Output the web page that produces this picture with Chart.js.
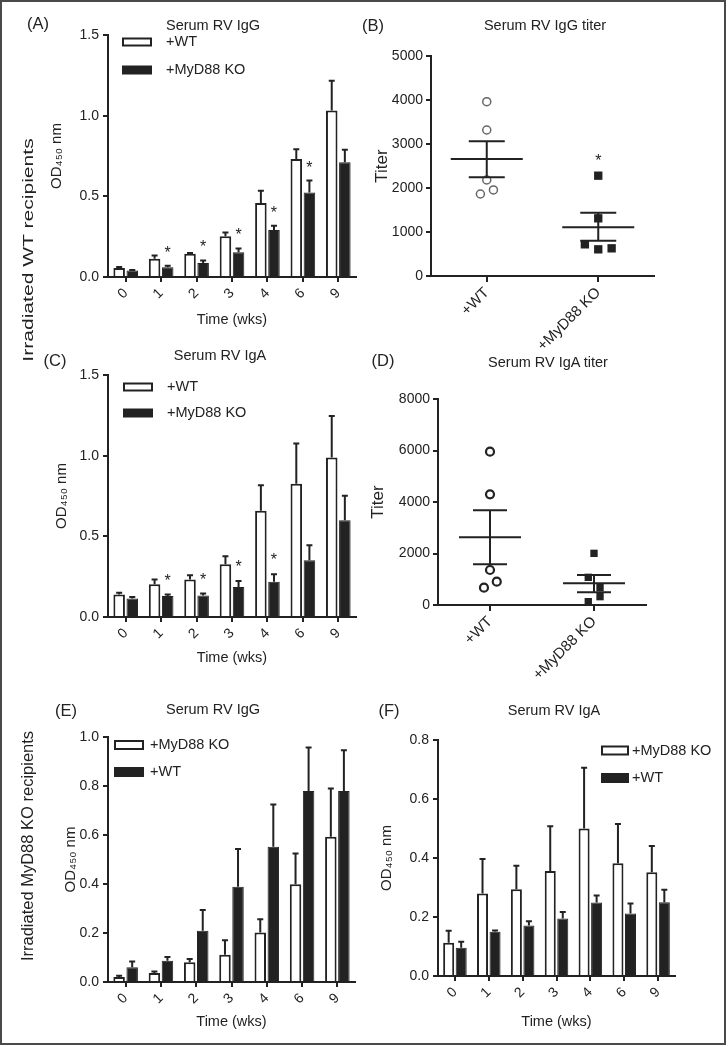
<!DOCTYPE html>
<html lang="en">
<head>
<meta charset="UTF-8" />
<title>Serum RV IgG / IgA responses</title>
<script src="https://cdn.jsdelivr.net/npm/chart.js"></script>
<style>
  body { margin: 0; background: #fff; }
  #page { position: relative; width: 728px; height: 1047px; overflow: hidden;
          font-family: "Liberation Sans", Arial, sans-serif; color: #222; }
  #frame { position: absolute; left: 0; top: 0; width: 722px; height: 1041px; border: 2px solid #4a4a4a; }
  canvas { position: absolute; }
  .txt { position: absolute; white-space: nowrap; line-height: 1; transform: translate(-50%, -50%); }
  .letter { font-size: 16.5px; }
  .title { font-size: 14.5px; }
</style>
</head>
<body>
<div id="page">
  <div id="frame"></div>

  <canvas id="chartA" width="360" height="333" style="left:0;top:0"></canvas>
  <canvas id="chartB" width="368" height="350" style="left:360px;top:0"></canvas>
  <canvas id="chartC" width="360" height="337" style="left:0;top:333px"></canvas>
  <canvas id="chartD" width="368" height="357" style="left:360px;top:333px"></canvas>
  <canvas id="chartE" width="360" height="377" style="left:0;top:670px"></canvas>
  <canvas id="chartF" width="368" height="377" style="left:360px;top:670px"></canvas>

  <div class="txt letter" style="left:38px;top:23px">(A)</div>
  <div class="txt letter" style="left:373px;top:25px">(B)</div>
  <div class="txt letter" style="left:55px;top:360px">(C)</div>
  <div class="txt letter" style="left:383px;top:360px">(D)</div>
  <div class="txt letter" style="left:66px;top:710px">(E)</div>
  <div class="txt letter" style="left:389px;top:710px">(F)</div>

  <div class="txt title" style="left:213px;top:25px">Serum RV IgG</div>
  <div class="txt title" style="left:545px;top:25px">Serum RV IgG titer</div>
  <div class="txt title" style="left:220px;top:355px">Serum RV IgA</div>
  <div class="txt title" style="left:548px;top:362px">Serum RV IgA titer</div>
  <div class="txt title" style="left:213px;top:709px">Serum RV IgG</div>
  <div class="txt title" style="left:554px;top:710px">Serum RV IgA</div>

  <div class="txt" style="left:28px;top:250px;font-size:15.5px;transform:translate(-50%,-50%) rotate(-90deg) scaleX(1.36)">Irradiated WT recipients</div>
  <div class="txt" style="left:27px;top:846px;font-size:16.5px;transform:translate(-50%,-50%) rotate(-90deg)">Irradiated MyD88 KO recipients</div>
</div>

<script>
var weeks = ['0', '1', '2', '3', '4', '6', '9'];

// (A) serum RV IgG, irradiated WT recipients
var aWT = [0.056, 0.113, 0.144, 0.252, 0.458, 0.732, 1.032];
var aWTsem = [0.006, 0.021, 0.005, 0.024, 0.076, 0.060, 0.185];
var aKO = [0.041, 0.060, 0.087, 0.153, 0.291, 0.524, 0.712];
var aKOsem = [0.003, 0.010, 0.016, 0.024, 0.027, 0.074, 0.076];
var aSig = [0, 1, 1, 1, 1, 1, 0];

// (C) serum RV IgA, irradiated WT recipients
var cWT = [0.139, 0.203, 0.232, 0.327, 0.658, 0.826, 0.989];
var cWTsem = [0.012, 0.029, 0.027, 0.050, 0.159, 0.250, 0.257];
var cKO = [0.114, 0.130, 0.134, 0.186, 0.219, 0.352, 0.600];
var cKOsem = [0.010, 0.009, 0.011, 0.037, 0.046, 0.093, 0.151];
var cSig = [0, 1, 1, 1, 1, 0, 0];

// (E) serum RV IgG, irradiated MyD88 KO recipients
var eKO = [0.020, 0.037, 0.081, 0.111, 0.202, 0.399, 0.593];
var eKOsem = [0.006, 0.006, 0.013, 0.059, 0.054, 0.126, 0.197];
var eWT = [0.060, 0.087, 0.209, 0.389, 0.552, 0.780, 0.780];
var eWTsem = [0.024, 0.015, 0.085, 0.154, 0.173, 0.177, 0.166];

// (F) serum RV IgA, irradiated MyD88 KO recipients
var fKO = [0.113, 0.280, 0.294, 0.356, 0.500, 0.382, 0.352];
var fKOsem = [0.040, 0.117, 0.080, 0.152, 0.206, 0.133, 0.089];
var fWT = [0.096, 0.150, 0.171, 0.195, 0.249, 0.212, 0.250];
var fWTsem = [0.020, 0.004, 0.015, 0.022, 0.024, 0.034, 0.042];

// (B) and (D) titers; x = group (0 / 1) plus the small side offset of each dot
var titerGroups = ['+WT', '+MyD88 KO'];
var bWT = [3962, 3318, 2182, 1864, 1955];
var bWTx = [0, 0, 0, -0.057, 0.06];
var bKO = [2280, 1311, 720, 606, 629];
var bKOx = [1, 1, 0.88, 1, 1.12];
var bMean = [2659, 1106];
var bUpper = [3061, 1439];
var bLower = [2242, 803];

var dWT = [5955, 4298, 1359, 673, 906];
var dWTx = [0, 0, 0, -0.058, 0.065];
var dKO = [2006, 1074, 673, 324, 129];
var dKOx = [1, 0.945, 1.058, 1.058, 0.945];
var dMean = [2628, 841];
var dUpper = [3676, 1165];
var dLower = [1579, 492];

var INK = '#222';
var FONT = '"Liberation Sans", Arial, "DejaVu Sans", sans-serif';
Chart.defaults.font.family = FONT;
Chart.defaults.color = INK;

// one-sided SEM whiskers on top of each bar
var errorBars = {
    id: 'errorBars',
    afterDatasetsDraw: function (chart) {
        var ctx = chart.ctx, y = chart.scales.y;
        ctx.save();
        ctx.strokeStyle = INK;
        ctx.lineWidth = 2;
        chart.data.datasets.forEach(function (ds, i) {
            chart.getDatasetMeta(i).data.forEach(function (bar, j) {
                var top = y.getPixelForValue(ds.data[j] + ds.sem[j]);
                ctx.beginPath();
                ctx.moveTo(bar.x, bar.y);
                ctx.lineTo(bar.x, top);
                ctx.moveTo(bar.x - 3, top);
                ctx.lineTo(bar.x + 3, top);
                ctx.stroke();
            });
        });
        ctx.restore();
    }
};

// asterisks above the second group's bars
var stars = {
    id: 'stars',
    afterDatasetsDraw: function (chart, args, opts) {
        if (!opts.marks) return;
        var ctx = chart.ctx, y = chart.scales.y;
        var ds = chart.data.datasets[1];
        var meta = chart.getDatasetMeta(1);
        ctx.save();
        ctx.fillStyle = INK;
        ctx.font = '16px ' + FONT;
        ctx.textAlign = 'center';
        ctx.textBaseline = 'alphabetic';
        opts.marks.forEach(function (m, j) {
            if (!m) return;
            var top = y.getPixelForValue(ds.data[j] + ds.sem[j]);
            ctx.fillText('*', meta.data[j].x, top - opts.gap + 9);
        });
        ctx.restore();
    }
};

// stacked legend inside the plot
var boxLegend = {
    id: 'boxLegend',
    afterDraw: function (chart, args, opts) {
        var ctx = chart.ctx, a = chart.chartArea;
        ctx.save();
        ctx.font = '14.5px ' + FONT;
        ctx.textBaseline = 'middle';
        chart.data.datasets.forEach(function (ds, i) {
            var x = a.left + opts.x, yc = a.top + opts.y + i * opts.step;
            ctx.fillStyle = ds.backgroundColor;
            ctx.fillRect(x, yc - opts.h / 2, opts.w, opts.h);
            ctx.strokeStyle = INK;
            ctx.lineWidth = 2;
            ctx.strokeRect(x, yc - opts.h / 2, opts.w, opts.h);
            ctx.fillStyle = INK;
            ctx.fillText(ds.label, x + opts.w + opts.gap, yc);
        });
        ctx.restore();
    }
};

// mean +/- SEM bars of the dot plots, plus the asterisk
var meanSem = {
    id: 'meanSem',
    afterDatasetsDraw: function (chart, args, opts) {
        var ctx = chart.ctx, xs = chart.scales.x, ys = chart.scales.y;
        ctx.save();
        ctx.strokeStyle = INK;
        ctx.lineWidth = 2;
        opts.mean.forEach(function (m, i) {
            var x = xs.getPixelForValue(i);
            var ym = ys.getPixelForValue(m), yu = ys.getPixelForValue(opts.upper[i]), yl = ys.getPixelForValue(opts.lower[i]);
            ctx.beginPath();
            ctx.moveTo(x - opts.meanHalf, ym); ctx.lineTo(x + opts.meanHalf, ym);
            ctx.moveTo(x - opts.semHalf, yu); ctx.lineTo(x + opts.semHalf, yu);
            ctx.moveTo(x - opts.semHalf, yl); ctx.lineTo(x + opts.semHalf, yl);
            ctx.moveTo(x, yu); ctx.lineTo(x, yl);
            ctx.stroke();
        });
        if (opts.star !== undefined) {
            var top = Math.max.apply(null, chart.data.datasets[opts.star].data.map(function (p) { return p.y; }));
            ctx.fillStyle = INK;
            ctx.font = '16px ' + FONT;
            ctx.textAlign = 'center';
            ctx.fillText('*', xs.getPixelForValue(opts.star), ys.getPixelForValue(top) - 19 + 9);
        }
        ctx.restore();
    }
};

function axisLook() {
    return {
        grid: { drawOnChartArea: false, color: INK, lineWidth: 2, tickLength: 5, offset: false },
        border: { display: true, color: INK, width: 2 }
    };
}

function barChart(id, c) {
    var x = axisLook(), y = axisLook();
    x.ticks = { minRotation: 45, maxRotation: 45, autoSkip: false, padding: 3, font: { size: 14 } };
    x.title = { display: true, text: 'Time (wks)', font: { size: 14.5 }, padding: { top: 0, bottom: c.xTitlePad } };
    x.afterFit = function (s) { s.height = c.xH; };
    y.min = 0;
    y.max = c.max;
    y.ticks = { stepSize: c.step, padding: 4, font: { size: 14 }, callback: function (v) { return v.toFixed(1); } };
    y.title = { display: true, text: 'OD₄₅₀ nm', font: { size: 15 }, padding: { top: c.yTitlePad, bottom: 0 } };
    y.afterFit = function (s) { s.width = c.yW; };

    return new Chart(document.getElementById(id), {
        type: 'bar',
        data: {
            labels: weeks,
            datasets: [
                { label: c.names[0], data: c.values[0], sem: c.sems[0], backgroundColor: '#fff', borderColor: INK, borderWidth: 2 },
                { label: c.names[1], data: c.values[1], sem: c.sems[1], backgroundColor: INK, borderColor: INK, borderWidth: 1 }
            ]
        },
        options: {
            responsive: false,
            animation: false,
            devicePixelRatio: 1,
            layout: { padding: { left: 0, top: c.padTop, right: c.padRight, bottom: 0 } },
            datasets: { bar: { categoryPercentage: 0.74, barPercentage: 0.88 } },
            scales: { x: x, y: y },
            plugins: {
                legend: { display: false },
                tooltip: { enabled: false },
                stars: { marks: c.sig, gap: c.starGap },
                boxLegend: c.legend
            }
        },
        plugins: [errorBars, stars, boxLegend]
    });
}

function dotChart(id, c) {
    var x = axisLook(), y = axisLook();
    x.type = 'linear';
    x.min = -0.5;
    x.max = 1.5;
    x.grid.tickLength = 6;
    x.afterBuildTicks = function (s) { s.ticks = [{ value: 0 }, { value: 1 }]; };
    x.ticks = { minRotation: 45, maxRotation: 45, autoSkip: false, padding: 2, font: { size: 15 },
        callback: function (v) { return titerGroups[v]; } };
    x.afterFit = function (s) { s.height = c.xH; };
    y.min = 0;
    y.max = c.max;
    y.ticks = { stepSize: c.step, padding: 3, font: { size: 14 }, callback: function (v) { return String(v); } };
    y.title = { display: true, text: 'Titer', font: { size: 17 }, padding: { top: c.yTitlePad, bottom: 0 } };
    y.afterFit = function (s) { s.width = c.yW; };

    function pts(xs, ys) {
        return ys.map(function (v, i) { return { x: xs[i], y: v }; });
    }

    return new Chart(document.getElementById(id), {
        type: 'scatter',
        data: {
            datasets: [
                { label: titerGroups[0], data: pts(c.wtX, c.wt), pointStyle: 'circle', pointRadius: 4,
                  pointBorderWidth: c.ringWidth, borderColor: c.ring, backgroundColor: '#fff' },
                { label: titerGroups[1], data: pts(c.koX, c.ko), pointStyle: 'rect', pointRadius: c.square,
                  pointBorderWidth: 0, borderColor: INK, backgroundColor: INK }
            ]
        },
        options: {
            responsive: false,
            animation: false,
            devicePixelRatio: 1,
            layout: { padding: { left: 0, top: c.padTop, right: c.padRight, bottom: 0 } },
            scales: { x: x, y: y },
            plugins: {
                legend: { display: false },
                tooltip: { enabled: false },
                meanSem: { mean: c.mean, upper: c.upper, lower: c.lower, meanHalf: c.meanHalf, semHalf: c.semHalf, star: c.star }
            }
        },
        plugins: [meanSem]
    });
}

barChart('chartA', {
    names: ['+WT', '+MyD88 KO'], values: [aWT, aKO], sems: [aWTsem, aKOsem], sig: aSig, starGap: 17,
    max: 1.5, step: 0.5, yW: 108, xH: 56, padTop: 35, padRight: 4, yTitlePad: 48, xTitlePad: 4,
    legend: { x: 15, y: 7, step: 28, w: 28, h: 7, gap: 15 }
});

barChart('chartC', {
    names: ['+WT', '+MyD88 KO'], values: [cWT, cKO], sems: [cWTsem, cKOsem], sig: cSig, starGap: 18,
    max: 1.5, step: 0.5, yW: 108, xH: 53, padTop: 42, padRight: 4, yTitlePad: 53, xTitlePad: 3,
    legend: { x: 16, y: 12, step: 26, w: 28, h: 7, gap: 15 }
});

barChart('chartE', {
    names: ['+MyD88 KO', '+WT'], values: [eKO, eWT], sems: [eKOsem, eWTsem], sig: null, starGap: 0,
    max: 1.0, step: 0.2, yW: 108, xH: 65, padTop: 67, padRight: 5, yTitlePad: 62, xTitlePad: 16,
    legend: { x: 7, y: 8, step: 27, w: 28, h: 8, gap: 7 }
});

barChart('chartF', {
    names: ['+MyD88 KO', '+WT'], values: [fKO, fWT], sems: [fKOsem, fWTsem], sig: null, starGap: 0,
    max: 0.8, step: 0.2, yW: 78, xH: 71, padTop: 70, padRight: 53, yTitlePad: 18, xTitlePad: 16,
    legend: { x: 164, y: 10.5, step: 27.5, w: 26, h: 8, gap: 4 }
});

dotChart('chartB', {
    wt: bWT, wtX: bWTx, ko: bKO, koX: bKOx, mean: bMean, upper: bUpper, lower: bLower, star: 1,
    max: 5000, step: 1000, yW: 71, xH: 74, padTop: 56, padRight: 74, yTitlePad: 12,
    ring: '#666', ringWidth: 1.5, square: 5.9, meanHalf: 36, semHalf: 18
});

dotChart('chartD', {
    wt: dWT, wtX: dWTx, ko: dKO, koX: dKOx, mean: dMean, upper: dUpper, lower: dLower,
    max: 8000, step: 2000, yW: 78, xH: 85, padTop: 66, padRight: 82, yTitlePad: 8,
    ring: INK, ringWidth: 2.2, square: 5.2, meanHalf: 31, semHalf: 17
});
</script>
</body>
</html>
